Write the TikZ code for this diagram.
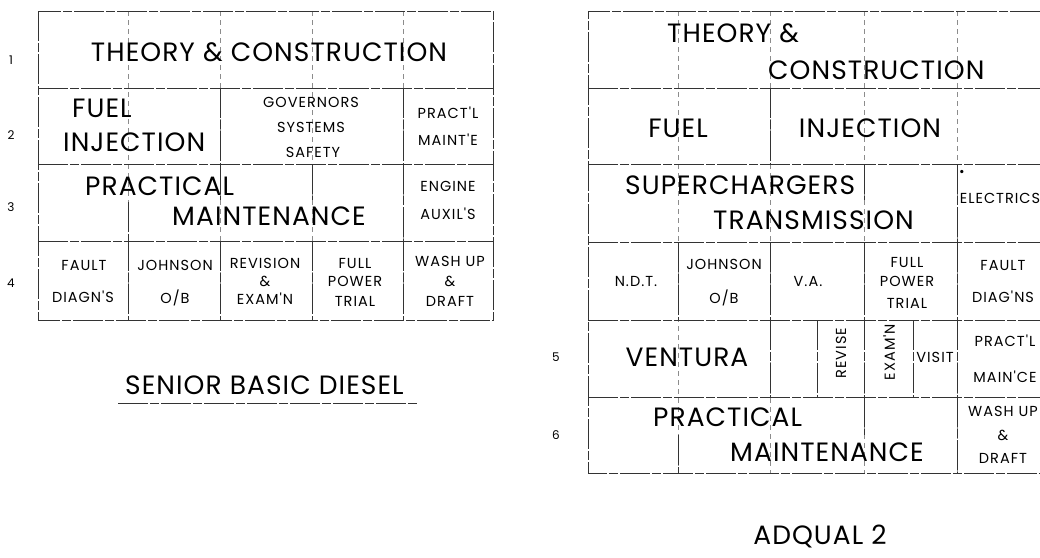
\documentclass[tikz,border=0pt]{standalone}
\usepackage{fontspec}
\setmainfont{Poppins}
\newfontfamily\bigfont[LetterSpace=4]{Poppins}
\newfontfamily\smfont[LetterSpace=7]{Poppins}
\begin{document}
\begin{tikzpicture}[x=1pt,y=-1pt,
  big/.style={font=\bigfont\fontsize{26.5}{26.5}\selectfont, inner sep=0pt, text depth=0pt},
  sm/.style={font=\smfont\fontsize{14.5}{14.5}\selectfont, inner sep=0pt, text depth=0pt},
  num/.style={font=\fontsize{12}{12}\selectfont, inner sep=0pt, text depth=0pt},
  ln/.style={line width=0.8pt, black!80, dash pattern=on 30pt off 2pt on 9pt off 2pt},
  faint/.style={line width=0.5pt, black!45, dash pattern=on 5pt off 4pt}]
\useasboundingbox (0,0) rectangle (1040,557);

% ---------------- left grid ----------------
\foreach \x in {128,220,312,403} \draw[faint] (\x,11) -- (\x,320);
\draw[ln] (38,11) rectangle (493,320);
\foreach \y in {88,164,241} \draw[ln] (38,\y) -- (493,\y);
\draw[ln] (220,88) -- (220,164);
\draw[ln] (403,88) -- (403,164);
\draw[ln] (128,202) -- (128,241);
\draw[ln] (220,164) -- (220,200);
\draw[ln] (312,164) -- (312,200);
\draw[ln] (403,164) -- (403,241);
\foreach \x in {128,220,312,403} \draw[ln] (\x,241) -- (\x,320);

\node[num] (l1) at (11,60) {1};
\node[num] (l2) at (11,135) {2};
\node[num] (l3) at (11,207) {3};
\node[num] (l4) at (11,283) {4};

\node[big] (ltc) at (269,52) {THEORY \& CONSTRUCTION};
\node[big,anchor=west] (lfuel) at (72,108) {FUEL};
\node[big,anchor=west] (linj) at (63,142) {INJECTION};
\node[sm] (lgov) at (311,102) {GOVERNORS};
\node[sm] (lsys) at (311,127) {SYSTEMS};
\node[sm] (lsaf) at (313,152) {SAFETY};
\node[sm] (lpr) at (448,113) {PRACT'L};
\node[sm] (lmt) at (448,140) {MAINT'E};
\node[big,anchor=west] (lprac) at (85,186) {PRACTICAL};
\node[big,anchor=west] (lmaint) at (172,216) {MAINTENANCE};
\node[sm] (leng) at (448,186) {ENGINE};
\node[sm] (laux) at (448,214) {AUXIL'S};
\node[sm] (lfault) at (84,265) {FAULT};
\node[sm] (ldiag) at (83,297) {DIAGN'S};
\node[sm] (ljohn) at (175,265) {JOHNSON};
\node[sm] (lob) at (175,297) {O/B};
\node[sm] (lrev) at (265,263) {REVISION};
\node[sm] (lamp) at (265,281) {\&};
\node[sm] (lexam) at (265,299) {EXAM'N};
\node[sm] (lfull) at (355,263) {FULL};
\node[sm] (lpow) at (355,281) {POWER};
\node[sm] (ltrial) at (355,301) {TRIAL};
\node[sm] (lwash) at (450,261) {WASH UP};
\node[sm] (lamp2) at (450,281) {\&};
\node[sm] (ldraft) at (450,301) {DRAFT};

\node[big,anchor=west] (sbd) at (125,385) {SENIOR BASIC DIESEL};
\draw[ln] (118,403) -- (418,403);

% ---------------- right grid ----------------
\foreach \x in {678,770,864,957} \draw[faint] (\x,11) -- (\x,473);
\draw[ln] (1040,11) -- (588,11) -- (588,473) -- (1040,473);
\foreach \y in {88,164,242,320,397} \draw[ln] (588,\y) -- (1040,\y);
\draw[ln] (770,88) -- (770,164);
\draw[ln] (864,164) -- (864,200);
\draw[ln] (957,164) -- (957,242);
\foreach \x in {678,770,864,957} \draw[ln] (\x,242) -- (\x,320);
\foreach \x in {770,817,864,913,957} \draw[ln] (\x,320) -- (\x,397);
\draw[ln] (678,435) -- (678,473);
\draw[ln] (864,397) -- (864,435);
\draw[ln] (957,397) -- (957,473);

\node[num] (r5) at (556,357) {5};
\node[num] (r6) at (556,435) {6};

\node[big,anchor=west] (rth) at (667,33) {THEORY \&};
\node[big,anchor=west] (rcon) at (768,70) {CONSTRUCTION};
\node[big] (rfuel) at (678,128) {FUEL};
\node[big] (rinj) at (870,128) {INJECTION};
\node[big,anchor=west] (rsup) at (625,185) {SUPERCHARGERS};
\node[big,anchor=west] (rtra) at (713,220) {TRANSMISSION};
\node[big] (rdot) at (962,172) {.};
\node[sm] (relec) at (1000,198) {ELECTRICS};
\node[sm] (rndt) at (636,281) {N.D.T.};
\node[sm] (rjohn) at (724,264) {JOHNSON};
\node[sm] (rob) at (724,297) {O/B};
\node[sm] (rva) at (808,281) {V.A.};
\node[sm] (rfull) at (907,262) {FULL};
\node[sm] (rpow) at (907,281) {POWER};
\node[sm] (rtrial) at (907,303) {TRIAL};
\node[sm] (rfault) at (1003,265) {FAULT};
\node[sm] (rdiag) at (1003,297) {DIAG'NS};
\node[big] (rven) at (687,357) {VENTURA};
\node[sm,rotate=90] (rrev) at (841,353) {REVISE};
\node[sm,rotate=90] (rexam) at (889,352) {EXAM'N};
\node[sm] (rvis) at (935,357) {VISIT};
\node[sm] (rpr) at (1005,341) {PRACT'L};
\node[sm] (rmc) at (1005,377) {MAIN'CE};
\node[big,anchor=west] (rprac) at (653,417) {PRACTICAL};
\node[big,anchor=west] (rmaint) at (730,452) {MAINTENANCE};
\node[sm] (rwash) at (1003,411) {WASH UP};
\node[sm] (ramp) at (1003,435) {\&};
\node[sm] (rdraft) at (1003,458) {DRAFT};

\node[big] (adq) at (820,535) {ADQUAL 2};
\end{tikzpicture}
\end{document}
